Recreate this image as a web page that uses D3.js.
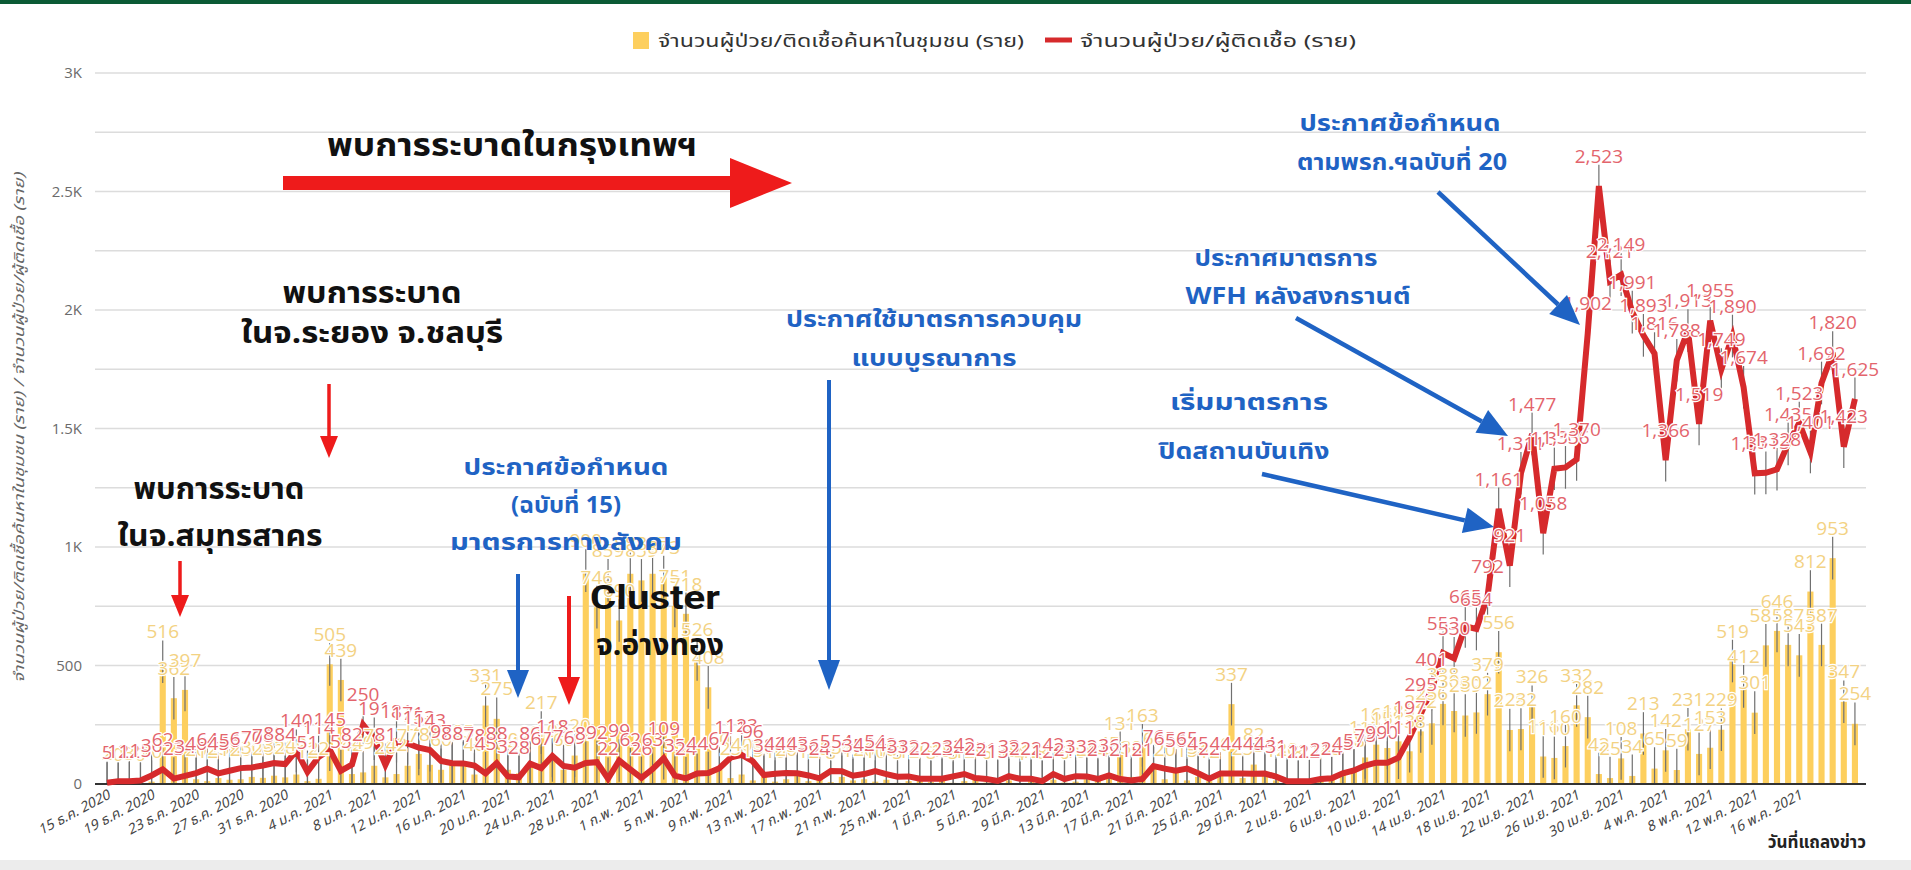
<!DOCTYPE html>
<html>
<head>
<meta charset="utf-8">
<script src="https://cdn.jsdelivr.net/npm/d3@7"></script>
<style>
  body { margin: 0; background: #fff; }
  svg { display: block; font-family: "Noto Sans Thai", "Noto Sans", "DejaVu Sans", sans-serif; }
</style>
</head>
<body>
<script>
// ---- data ----
// one category per day, 15 Dec 2020 .. 21 May 2021
const dayCount = 158;

const tickLabels = [
  "15 ธ.ค. 2020", "19 ธ.ค. 2020", "23 ธ.ค. 2020", "27 ธ.ค. 2020", "31 ธ.ค. 2020",
  "4 ม.ค. 2021", "8 ม.ค. 2021", "12 ม.ค. 2021", "16 ม.ค. 2021", "20 ม.ค. 2021",
  "24 ม.ค. 2021", "28 ม.ค. 2021", "1 ก.พ. 2021", "5 ก.พ. 2021", "9 ก.พ. 2021",
  "13 ก.พ. 2021", "17 ก.พ. 2021", "21 ก.พ. 2021", "25 ก.พ. 2021", "1 มี.ค. 2021",
  "5 มี.ค. 2021", "9 มี.ค. 2021", "13 มี.ค. 2021", "17 มี.ค. 2021", "21 มี.ค. 2021",
  "25 มี.ค. 2021", "29 มี.ค. 2021", "2 เม.ย. 2021", "6 เม.ย. 2021", "10 เม.ย. 2021",
  "14 เม.ย. 2021", "18 เม.ย. 2021", "22 เม.ย. 2021", "26 เม.ย. 2021", "30 เม.ย. 2021",
  "4 พ.ค. 2021", "8 พ.ค. 2021", "12 พ.ค. 2021", "16 พ.ค. 2021"
];
const tickEvery = 4;

// yellow bars: found in community
const community = [
  2, 0, 3, 0, 10, 516, 362, 397, 20, 12,
  25, 18, 20, 30, 26, 35, 28, 40, 12, 22,
  505, 439, 42, 49, 77, 28, 42, 77, 127, 81,
  60, 83, 95, 40, 331, 275, 60, 45, 90, 217,
  100, 60, 120, 900, 746, 859, 690, 887, 859, 887,
  873, 751, 718, 526, 408, 60, 25, 40, 15, 30,
  10, 20, 35, 12, 25, 8, 30, 15, 20, 10,
  18, 5, 12, 20, 8, 15, 5, 12, 20, 6,
  10, 15, 4, 12, 8, 18, 6, 10, 20, 14,
  45, 131, 30, 163, 66, 20, 58, 15, 30, 12,
  40, 337, 25, 82, 35, 15, 20, 8, 12, 18,
  25, 40, 58, 112, 166, 152, 180, 138, 222, 256,
  338, 308, 289, 302, 379, 556, 228, 232, 326, 116,
  110, 160, 332, 282, 42, 25, 108, 34, 213, 65,
  142, 59, 231, 127, 153, 229, 519, 412, 301, 585,
  646, 587, 543, 812, 587, 953, 347, 254
];

// red line: patients / infected
const cases = [
  5, 12, 12, 15, 36, 62, 23, 34, 46, 64,
  45, 56, 67, 70, 78, 88, 84, 140, 51, 114,
  145, 55, 82, 250, 191, 81, 181, 171, 153, 143,
  97, 88, 87, 78, 45, 88, 32, 28, 86, 67,
  118, 76, 69, 89, 92, 22, 99, 62, 26, 63,
  109, 35, 24, 44, 46, 67, 111, 123, 96, 38,
  43, 46, 45, 36, 24, 55, 54, 35, 42, 54,
  42, 31, 32, 22, 22, 22, 32, 42, 25, 21,
  13, 33, 22, 22, 12, 42, 21, 33, 32, 21,
  36, 21, 15, 21, 76, 65, 56, 65, 45, 22,
  44, 44, 44, 43, 44, 31, 12, 12, 12, 21,
  24, 45, 57, 78, 90, 90, 111, 197, 295, 401,
  553, 530, 665, 654, 792, 1161, 921, 1311, 1477, 1058,
  1330, 1336, 1370, 1902, 2523, 2121, 2149, 1991, 1893, 1816,
  1366, 1788, 1913, 1519, 1955, 1749, 1890, 1674, 1311, 1313,
  1328, 1435, 1523, 1401, 1692, 1820, 1423, 1625
];

const errorSize = 90;   // constant error bars on both series
const yTicks = [0, 500, 1000, 1500, 2000, 2500, 3000];
const yTickLabels = ["0", "500", "1K", "1.5K", "2K", "2.5K", "3K"];

const legendLabels = ["จำนวนผู้ป่วย/ติดเชื้อค้นหาในชุมชน (ราย)", "จำนวนผู้ป่วย/ผู้ติดเชื้อ (ราย)"];
const yTitle = "จำนวนผู้ป่วย/ติดเชื้อค้นหาในชุมชน (ราย) / จำนวนผู้ป่วย/ผู้ติดเชื้อ (ราย)";
const xTitle = "วันที่แถลงข่าว";

// ---- drawing ----
const width = 1911, height = 870;
const barColor = "#fdcf5e", lineColor = "#d62a2c";
const redLabel = "#e3646c", yellowLabel = "#f3d283";
const blue = "#1f63c4", arrowRed = "#ee1b1b";

const svg = d3.select("body").append("svg")
  .attr("width", width)
  .attr("height", height);

// frame strips
svg.append("rect").attr("x", 0).attr("y", 0).attr("width", width).attr("height", 4).attr("fill", "#0b5a35");
svg.append("rect").attr("x", 0).attr("y", 860).attr("width", width).attr("height", 10).attr("fill", "#ececec");

const days = d3.range(dayCount);
const x = d3.scaleBand().domain(days).range([101.5, 1860.5]);
const cx = d => x(d) + x.bandwidth() / 2;
const y = d3.scaleLinear().domain([0, 3000]).range([784, 73]);

// gridlines every 250
const grid = svg.append("g");
for (let v = 250; v <= 3000; v += 250) {
  grid.append("line")
    .attr("x1", 95).attr("x2", 1866)
    .attr("y1", y(v)).attr("y2", y(v))
    .attr("stroke", "#dcdcdc").attr("stroke-width", 1.3);
}

// y axis labels
const yAxis = svg.append("g")
  .attr("transform", "translate(82,0)")
  .call(d3.axisLeft(y).tickValues(yTicks).tickSize(0).tickPadding(0)
    .tickFormat((d, i) => yTickLabels[i]));
yAxis.select(".domain").remove();
yAxis.selectAll("text")
  .attr("fill", "#6b6b6b")
  .style("font-size", "15px")
  .style("font-family", "'Open Sans', sans-serif");

svg.append("text")
  .attr("transform", "translate(24,428) rotate(-90)")
  .attr("text-anchor", "middle")
  .attr("fill", "#666")
  .style("font-size", "14px")
  .style("font-style", "italic")
  .attr("textLength", 510)
  .attr("lengthAdjust", "spacingAndGlyphs")
  .text(yTitle);

// bars
const bw = x.step() * 0.55;
svg.append("g").selectAll("rect")
  .data(days)
  .join("rect")
  .attr("x", d => cx(d) - bw / 2)
  .attr("y", d => y(community[d]))
  .attr("width", bw)
  .attr("height", d => y(0) - y(community[d]))
  .attr("fill", barColor);

// error bars
const err = svg.append("g").attr("stroke", "#707070").attr("stroke-width", 1.2);
err.selectAll("line.b")
  .data(days)
  .join("line")
  .attr("class", "b")
  .attr("x1", cx).attr("x2", cx)
  .attr("y1", d => y(Math.max(0, community[d] - errorSize)))
  .attr("y2", d => y(community[d] + errorSize));
err.selectAll("line.c")
  .data(days)
  .join("line")
  .attr("class", "c")
  .attr("x1", cx).attr("x2", cx)
  .attr("y1", d => y(Math.max(0, cases[d] - errorSize)))
  .attr("y2", d => y(cases[d] + errorSize));

// x axis
svg.append("line")
  .attr("x1", 95).attr("x2", 1866)
  .attr("y1", y(0)).attr("y2", y(0))
  .attr("stroke", "#333").attr("stroke-width", 2);

const tickDays = days.filter(d => d % tickEvery === 0);
svg.append("g").selectAll("text")
  .data(tickDays)
  .join("text")
  .attr("transform", d => `translate(${cx(d) + 4},${y(0) + 14}) rotate(-28)`)
  .attr("text-anchor", "end")
  .attr("fill", "#444")
  .style("font-size", "14px")
  .style("font-style", "italic")
  .text((d, i) => tickLabels[i]);

svg.append("text")
  .attr("x", 1866).attr("y", 848)
  .attr("text-anchor", "end")
  .attr("fill", "#222")
  .style("font-size", "17px")
  .style("font-weight", "bold")
  .text(xTitle);

// line
const line = d3.line().x(cx).y(d => y(cases[d]));
svg.append("path")
  .datum(days)
  .attr("fill", "none")
  .attr("stroke", lineColor)
  .attr("stroke-width", 6)
  .attr("stroke-linejoin", "miter")
  .attr("d", line);

// data labels
const fmt = d3.format(",");
function labels(values, color) {
  svg.append("g").selectAll("text")
    .data(days)
    .join("text")
    .attr("x", cx)
    .attr("y", d => y(values[d] + errorSize) - 2)
    .attr("text-anchor", "middle")
    .attr("fill", color)
    .attr("stroke", "#fff")
    .attr("stroke-width", 2.5)
    .attr("paint-order", "stroke")
    .style("font-size", "19px")
    .style("font-family", "'Open Sans', sans-serif")
    .text(d => fmt(values[d]));
}
labels(community, yellowLabel);
labels(cases, redLabel);

// legend
const lg = svg.append("g").style("font-size", "17px").attr("fill", "#333");
lg.append("rect").attr("x", 633).attr("y", 32).attr("width", 16).attr("height", 17).attr("fill", barColor);
lg.append("text").attr("x", 658).attr("y", 47)
  .attr("textLength", 366).attr("lengthAdjust", "spacingAndGlyphs").text(legendLabels[0]);
lg.append("line").attr("x1", 1045).attr("x2", 1072).attr("y1", 40).attr("y2", 40)
  .attr("stroke", lineColor).attr("stroke-width", 5);
lg.append("text").attr("x", 1080).attr("y", 47)
  .attr("textLength", 276).attr("lengthAdjust", "spacingAndGlyphs").text(legendLabels[1]);

// annotations
function note(txt, xc, yb, size, color, len, family) {
  const t = svg.append("text")
    .attr("x", xc).attr("y", yb)
    .attr("text-anchor", "middle")
    .attr("fill", color)
    .style("font-size", size + "px")
    .style("font-weight", "bold")
    .text(txt);
  if (len) t.attr("textLength", len).attr("lengthAdjust", "spacingAndGlyphs");
  if (family) t.style("font-family", family);
}
function arrow(x1, y1, x2, y2, color, w, hl, hw) {
  const a = Math.atan2(y2 - y1, x2 - x1);
  const bx = x2 - hl * Math.cos(a), by = y2 - hl * Math.sin(a);
  svg.append("line")
    .attr("x1", x1).attr("y1", y1).attr("x2", bx).attr("y2", by)
    .attr("stroke", color).attr("stroke-width", w);
  const px = -Math.sin(a) * hw / 2, py = Math.cos(a) * hw / 2;
  svg.append("path")
    .attr("d", d3.line()([[x2, y2], [bx + px, by + py], [bx - px, by - py]]) + "Z")
    .attr("fill", color);
}

note("พบการระบาดในกรุงเทพฯ", 512, 156, 32, "#111", 370);
arrow(283, 183, 792, 183, arrowRed, 14, 62, 50);

note("พบการระบาด", 372, 303, 30, "#111", 179);
note("ในจ.ระยอง จ.ชลบุรี", 372, 343, 30, "#111", 262);
arrow(329, 384, 329, 458, arrowRed, 3.5, 22, 18);

note("พบการระบาด", 219, 499, 30, "#111", 171);
note("ในจ.สมุทรสาคร", 220, 546, 30, "#111", 205);
arrow(180, 561, 180, 617, arrowRed, 3.5, 22, 18);

note("ประกาศข้อกำหนด", 566, 475, 23, blue, 205);
note("(ฉบับที่ 15)", 566, 513, 23, blue, 110);
note("มาตรการทางสังคม", 566, 550, 23, blue, 232);
arrow(518, 574, 518, 698, blue, 4, 28, 22);
arrow(569, 596, 569, 705, arrowRed, 4, 28, 22);

note("Cluster", 655, 609, 34, "#111", 130, "Roboto, sans-serif");
note("จ.อ่างทอง", 660, 655, 30, "#111", 128);

note("ประกาศใช้มาตรการควบคุม", 934, 327, 23, blue, 296);
note("แบบบูรณาการ", 934, 366, 23, blue, 165);
arrow(829, 380, 829, 690, blue, 4, 30, 22);

note("ประกาศข้อกำหนด", 1400, 131, 23, blue, 201);
note("ตามพรก.ฯฉบับที่ 20", 1402, 170, 23, blue, 210);
arrow(1438, 192, 1580, 325, blue, 4.5, 30, 26);

note("ประกาศมาตรการ", 1286, 266, 23, blue, 183);
note("WFH หลังสงกรานต์", 1298, 304, 23, blue, 225);
arrow(1296, 318, 1508, 436, blue, 4.5, 30, 26);

note("เริ่มมาตรการ", 1249, 410, 23, blue, 158);
note("ปิดสถานบันเทิง", 1244, 459, 23, blue, 171);
arrow(1262, 474, 1494, 527, blue, 4.5, 30, 26);
</script>
</body>
</html>
